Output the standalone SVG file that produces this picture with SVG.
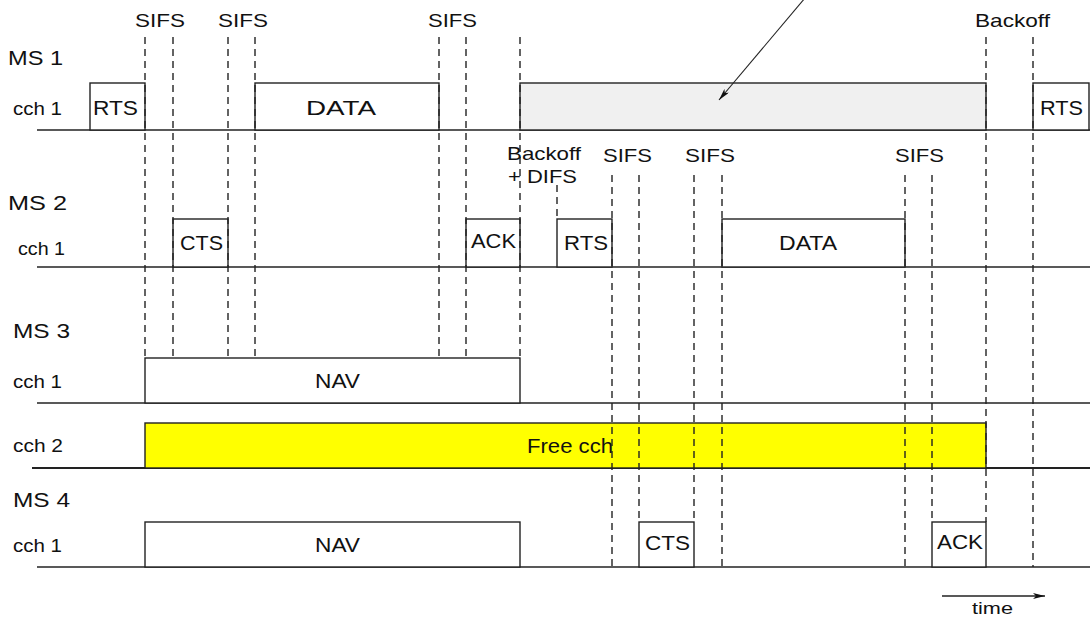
<svg xmlns="http://www.w3.org/2000/svg" width="1090" height="619" viewBox="0 0 1090 619">
<style>
text{font-family:"Liberation Sans",Arial,sans-serif;fill:#111}
.lbl{font-size:19px}
.ms{font-size:21px}
.ch{font-size:18.5px}
.bx{font-size:21px}
.box{fill:#fff;stroke:#222;stroke-width:1.4}
.lane{stroke:#222;stroke-width:1.6;fill:none}
.dash{stroke:#222;stroke-width:1.4;stroke-dasharray:7 5;fill:none}
</style>
<defs>
<marker id="ah" viewBox="0 0 12 6" refX="12" refY="3" markerWidth="12" markerHeight="6" markerUnits="userSpaceOnUse" orient="auto">
<path d="M0,0 L12,3 L0,6 L3,3 Z" fill="#111"/>
</marker>
</defs>
<rect width="1090" height="619" fill="#fff"/>

<g id="lanes">
<line class="lane" x1="37" y1="130" x2="1090" y2="130"/>
<line class="lane" x1="37" y1="267" x2="1090" y2="267"/>
<line class="lane" x1="37" y1="403" x2="1090" y2="403"/>
<line class="lane" x1="32" y1="468" x2="1090" y2="468" style="stroke-width:2.2"/>
<line class="lane" x1="37" y1="567" x2="1090" y2="567"/>
</g>

<g id="labels">
<text class="ms" x="8" y="65" textLength="55" lengthAdjust="spacingAndGlyphs">MS 1</text>
<text class="ch" x="13" y="115" textLength="49" lengthAdjust="spacingAndGlyphs">cch 1</text>
<text class="ms" x="8" y="210" textLength="59" lengthAdjust="spacingAndGlyphs">MS 2</text>
<text class="ch" x="18" y="255" textLength="47" lengthAdjust="spacingAndGlyphs">cch 1</text>
<text class="ms" x="13" y="338" textLength="57" lengthAdjust="spacingAndGlyphs">MS 3</text>
<text class="ch" x="13" y="388" textLength="49" lengthAdjust="spacingAndGlyphs">cch 1</text>
<text class="ch" x="13" y="452" textLength="50" lengthAdjust="spacingAndGlyphs">cch 2</text>
<text class="ms" x="13" y="507" textLength="57" lengthAdjust="spacingAndGlyphs">MS 4</text>
<text class="ch" x="13" y="552" textLength="49" lengthAdjust="spacingAndGlyphs">cch 1</text>
</g>

<g id="ms1-rts1"><rect class="box" x="90" y="83" width="55" height="47"/><text class="bx" x="93" y="115" textLength="45" lengthAdjust="spacingAndGlyphs">RTS</text></g>
<g id="ms1-data"><rect class="box" x="255" y="83" width="184" height="47"/><text class="bx" x="306" y="115" textLength="70" lengthAdjust="spacingAndGlyphs">DATA</text></g>
<g id="ms1-wait"><rect class="box" x="520" y="83" width="466" height="47" style="fill:#f0f0f0"/></g>
<g id="ms1-rts2"><rect class="box" x="1033" y="83" width="56" height="47"/><text class="bx" x="1040" y="115" textLength="43" lengthAdjust="spacingAndGlyphs">RTS</text></g>

<g id="ms2-cts"><rect class="box" x="173" y="219" width="55" height="48"/><text class="bx" x="180" y="250" textLength="43" lengthAdjust="spacingAndGlyphs">CTS</text></g>
<g id="ms2-ack"><rect class="box" x="466" y="219" width="54" height="48"/><text class="bx" x="471" y="248" textLength="45" lengthAdjust="spacingAndGlyphs">ACK</text></g>
<g id="ms2-rts"><rect class="box" x="557" y="219" width="55" height="48"/><text class="bx" x="564" y="250" textLength="44" lengthAdjust="spacingAndGlyphs">RTS</text></g>
<g id="ms2-data"><rect class="box" x="722" y="219" width="183" height="48"/><text class="bx" x="779" y="250" textLength="58" lengthAdjust="spacingAndGlyphs">DATA</text></g>

<g id="ms3-nav"><rect class="box" x="145" y="358" width="375" height="45"/><text class="bx" x="315" y="388" textLength="45" lengthAdjust="spacingAndGlyphs">NAV</text></g>
<g id="free-cch"><rect class="box" x="145" y="423" width="841" height="45" style="fill:#ffff00"/><text class="bx" x="527" y="453" textLength="86" lengthAdjust="spacingAndGlyphs">Free cch</text></g>

<g id="ms4-nav"><rect class="box" x="145" y="522" width="375" height="45"/><text class="bx" x="315" y="552" textLength="45" lengthAdjust="spacingAndGlyphs">NAV</text></g>
<g id="ms4-cts"><rect class="box" x="639" y="522" width="55" height="45"/><text class="bx" x="645" y="550" textLength="45" lengthAdjust="spacingAndGlyphs">CTS</text></g>
<g id="ms4-ack"><rect class="box" x="932" y="522" width="54" height="45"/><text class="bx" x="937" y="549" textLength="46" lengthAdjust="spacingAndGlyphs">ACK</text></g>

<g id="connectors">
<line class="dash" x1="145" y1="37" x2="145" y2="358"/>
<line class="dash" x1="173" y1="37" x2="173" y2="358"/>
<line class="dash" x1="228" y1="37" x2="228" y2="358"/>
<line class="dash" x1="255" y1="37" x2="255" y2="358"/>
<line class="dash" x1="439" y1="37" x2="439" y2="358"/>
<line class="dash" x1="466" y1="37" x2="466" y2="358"/>
<line class="dash" x1="520" y1="37" x2="520" y2="358"/>
<line class="dash" x1="557" y1="185" x2="557" y2="219"/>
<line class="dash" x1="612" y1="175" x2="612" y2="567"/>
<line class="dash" x1="639" y1="175" x2="639" y2="522"/>
<line class="dash" x1="694" y1="175" x2="694" y2="522"/>
<line class="dash" x1="722" y1="175" x2="722" y2="567"/>
<line class="dash" x1="905" y1="175" x2="905" y2="567"/>
<line class="dash" x1="932" y1="175" x2="932" y2="522"/>
<line class="dash" x1="986" y1="37" x2="986" y2="522"/>
<line class="dash" x1="1033" y1="37" x2="1033" y2="567"/>
<line x1="805" y1="-2" x2="719" y2="100" stroke="#222" stroke-width="1.1" marker-end="url(#ah)"/>
<line x1="942" y1="596" x2="1045" y2="596" stroke="#222" stroke-width="1.3" marker-end="url(#ah)"/>
</g>

<g id="interval-labels">
<text class="lbl" x="135" y="27" textLength="50" lengthAdjust="spacingAndGlyphs">SIFS</text>
<text class="lbl" x="218" y="27" textLength="50" lengthAdjust="spacingAndGlyphs">SIFS</text>
<text class="lbl" x="428" y="27" textLength="49" lengthAdjust="spacingAndGlyphs">SIFS</text>
<text class="lbl" x="975" y="27" textLength="75" lengthAdjust="spacingAndGlyphs">Backoff</text>
<text class="lbl"><tspan x="507" y="160" textLength="74" lengthAdjust="spacingAndGlyphs">Backoff</tspan><tspan x="508" y="183" textLength="69" lengthAdjust="spacingAndGlyphs">+ DIFS</tspan></text>
<text class="lbl" x="603" y="162" textLength="49" lengthAdjust="spacingAndGlyphs">SIFS</text>
<text class="lbl" x="685" y="162" textLength="50" lengthAdjust="spacingAndGlyphs">SIFS</text>
<text class="lbl" x="895" y="162" textLength="49" lengthAdjust="spacingAndGlyphs">SIFS</text>
<text x="972" y="614" style="font-size:17px" textLength="41" lengthAdjust="spacingAndGlyphs">time</text>
</g>
</svg>
